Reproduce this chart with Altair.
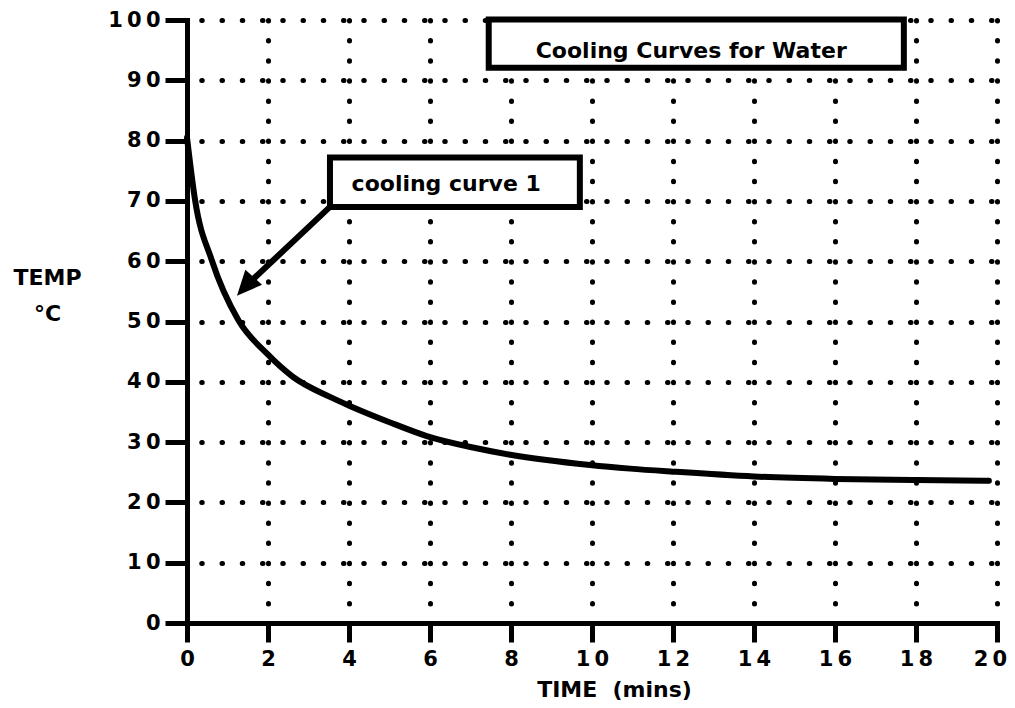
import altair as alt
import pandas as pd

# ---- data ----
time_min = [0, 0.2, 0.61, 1.27, 1.97, 2.62, 3.53, 4.02, 5.0, 5.92, 7.06, 7.98, 9.95, 10.94, 12.0, 14.0, 16.0, 18.0, 19.8]
temp_c = [80.5, 70.1, 60.2, 50.2, 44.7, 40.8, 37.5, 36.0, 33.3, 31.0, 29.1, 27.9, 26.2, 25.6, 25.1, 24.3, 23.9, 23.7, 23.6]

x_ticks = [0, 2, 4, 6, 8, 10, 12, 14, 16, 18, 20]
y_ticks = [0, 10, 20, 30, 40, 50, 60, 70, 80, 90, 100]

chart_title = "Cooling Curves for Water"
curve_label = "cooling curve 1"
x_title = "TIME\u00a0\u00a0(mins)"
y_title = ["TEMP", "°C"]

# annotation anchors (data units)
title_box_x = [7.45, 17.7]
title_box_y = [100.1, 92.1]
title_text_pos = [12.45, 94.8]
label_box_x = [3.53, 9.7]
label_box_y = [77.2, 69.0]
label_text_pos = [6.4, 72.8]
arrow_from = [3.53, 69.0]
arrow_to = [1.63, 57.0]
arrow_head = [1.44, 55.8]

FONT = "DejaVu Sans"

curve_df = pd.DataFrame({"time": time_min, "temp": temp_c})

xscale = alt.Scale(domain=[0, 20], nice=False, zero=False)
yscale = alt.Scale(domain=[0, 100], nice=False, zero=False)

label_expr = "join(split(datum.label, ''), '\u2009')"

x_axis = alt.Axis(values=x_ticks, title=x_title,
                  titleX=427, titleY=73, titleAlign="center",
                  titleBaseline="alphabetic",
                  gridDash=[0.5, 19.6], labelExpr=label_expr,
                  labelOffset={"condition": {"test": "datum.value == 20", "value": -7},
                               "value": 0})
y_axis = alt.Axis(values=y_ticks, title=y_title,
                  titleAngle=0, titleX=-140, titleY=247,
                  titleAlign="center", titleBaseline="top",
                  titleLineHeight=36,
                  gridDash=[0.5, 19.75], gridDashOffset=6,
                  labelExpr=label_expr)


def X(field):
    return alt.X(field, scale=xscale, axis=x_axis)


def Y(field):
    return alt.Y(field, scale=yscale, axis=y_axis)


curve = alt.Chart(curve_df).mark_line(
    color="black", strokeWidth=6, interpolate="monotone", strokeCap="round"
).encode(x=X("time:Q"), y=Y("temp:Q"))


def box(xs, ys):
    df = pd.DataFrame({"x0": [xs[0]], "x1": [xs[1]], "y0": [ys[0]], "y1": [ys[1]]})
    return alt.Chart(df).mark_rect(fill="white", stroke="black", strokeWidth=6).encode(
        x=X("x0:Q"), x2="x1:Q", y=Y("y0:Q"), y2="y1:Q",
    )


def text(pos, s, size):
    df = pd.DataFrame({"x": [pos[0]], "y": [pos[1]], "t": [s]})
    return alt.Chart(df).mark_text(font=FONT, fontSize=size, fontWeight="bold",
                                   align="center", baseline="middle", color="black").encode(
        x=X("x:Q"), y=Y("y:Q"), text="t:N",
    )


arrow_df = pd.DataFrame({"x": [arrow_from[0]], "y": [arrow_from[1]],
                         "x2": [arrow_to[0]], "y2": [arrow_to[1]]})
arrow_line = alt.Chart(arrow_df).mark_rule(color="black", strokeWidth=6).encode(
    x=X("x:Q"), y=Y("y:Q"), x2="x2:Q", y2="y2:Q",
)
head_df = pd.DataFrame({"x": [arrow_head[0]], "y": [arrow_head[1]]})
arrow_tip = alt.Chart(head_df).mark_point(
    shape="M0,-1L0.9,1L-0.9,1Z", size=625, filled=True, color="black", opacity=1, angle=222
).encode(x=X("x:Q"), y=Y("y:Q"))

chart = alt.layer(
    curve,
    box(title_box_x, title_box_y),
    text(title_text_pos, chart_title, 22),
    box(label_box_x, label_box_y),
    text(label_text_pos, curve_label, 22),
    arrow_line,
    arrow_tip,
).properties(
    width=810, height=603,
    autosize=alt.AutoSizeParams(type="none"),
    padding={"left": 179, "top": 12, "right": 10, "bottom": 77},
    background="white",
).configure_view(
    stroke=None
).configure_axis(
    domainColor="black", domainWidth=5, domainCap="square",
    tickColor="black", tickWidth=5, tickCap="butt",
    grid=True, gridColor="black", gridWidth=5, gridCap="round", gridOpacity=1,
    labelFont=FONT, labelFontWeight="bold", labelFontSize=21, labelColor="black",
    titleFont=FONT, titleFontWeight="bold", titleFontSize=22, titleColor="black",
    labelFlush=False, labelOverlap=False,
).configure_axisX(
    tickSize=19, labelPadding=6,
).configure_axisY(
    tickSize=22, labelPadding=5,
)

chart.save("out.html", embed_options={"renderer": "svg", "actions": False})
